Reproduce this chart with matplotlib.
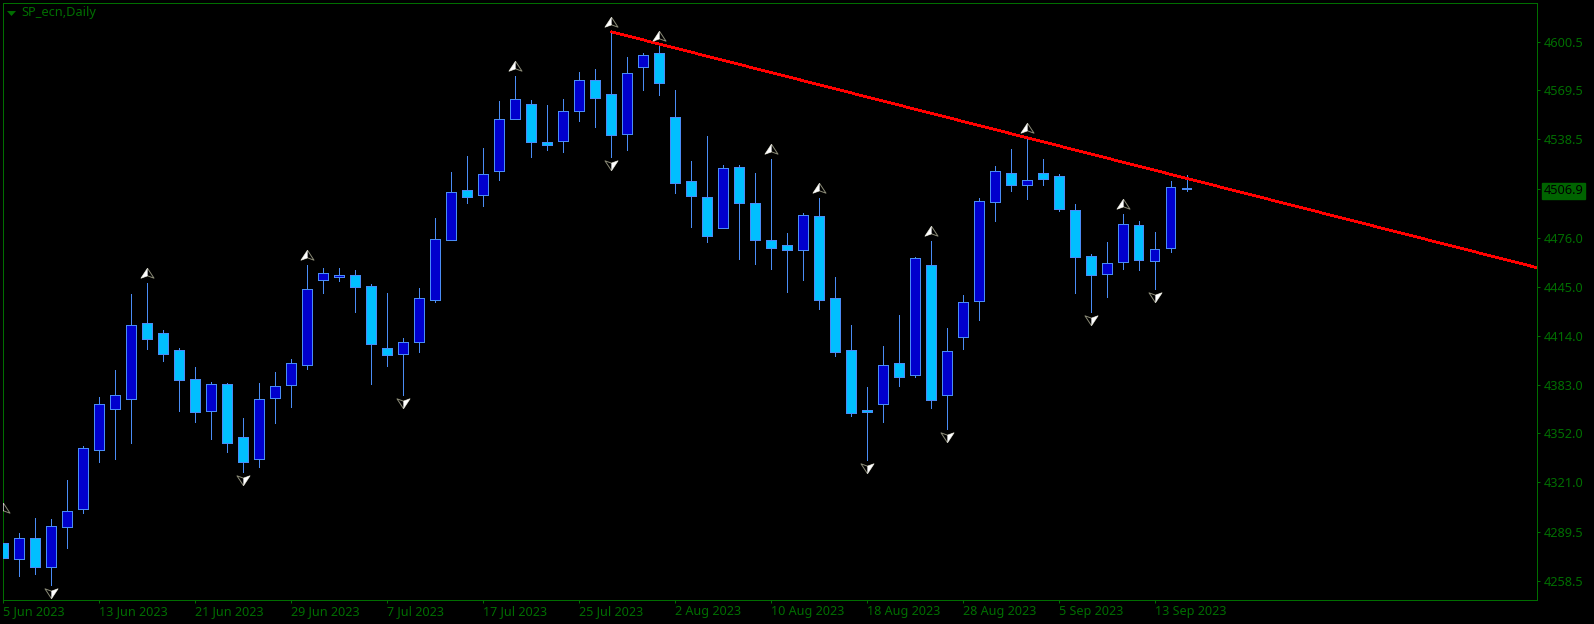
#!/usr/bin/env python3
# -*- coding: utf-8 -*-
import numpy as np
import matplotlib
matplotlib.use("Agg")
import matplotlib.pyplot as plt
from matplotlib.transforms import offset_copy

plt.rcParams["font.family"] = ["Noto Sans", "DejaVu Sans"]

#### DATA (bar number = position on the x axis)
bar_open = [4282.7, 4272.6, 4285.9, 4267.5, 4292.9, 4304.3, 4341.7, 4367.7, 4374.0, 4422.2,
            4415.9, 4405.1, 4386.7, 4366.2, 4383.5, 4349.9, 4336.0, 4374.4, 4382.7, 4395.3,
            4449.5, 4451.2, 4452.7, 4445.7, 4406.4, 4402.3, 4409.9, 4436.6, 4474.6, 4506.6,
            4503.2, 4518.4, 4551.4, 4561.1, 4537.0, 4537.4, 4556.4, 4576.4, 4567.5, 4541.9,
            4584.6, 4593.5, 4552.9, 4512.3, 4502.2, 4482.2, 4521.2, 4498.3, 4474.9, 4471.7,
            4468.3, 4490.1, 4438.1, 4405.1, 4367.2, 4370.6, 4396.9, 4389.0, 4459.0, 4376.3,
            4413.1, 4435.9, 4498.7, 4517.4, 4509.5, 4517.4, 4515.5, 4493.9, 4464.7, 4453.1,
            4460.7, 4484.4, 4461.3, 4469.5, 4507.9]
bar_high = [4298.6, 4288.6, 4298.6, 4297.9, 4322.2, 4344.0, 4375.3, 4392.0, 4440.2, 4447.2,
            4417.8, 4406.4, 4393.9, 4384.4, 4383.7, 4362.0, 4384.2, 4390.7, 4399.0, 4458.6,
            4456.7, 4456.7, 4455.4, 4446.5, 4440.8, 4412.7, 4444.0, 4488.4, 4517.6, 4527.7,
            4532.8, 4562.6, 4578.5, 4563.2, 4560.1, 4563.9, 4581.0, 4582.9, 4606.8, 4590.5,
            4593.5, 4597.5, 4569.6, 4524.5, 4540.4, 4522.0, 4522.0, 4516.9, 4525.8, 4478.9,
            4491.6, 4501.1, 4451.0, 4420.5, 4381.6, 4407.6, 4426.9, 4464.1, 4473.8, 4418.6,
            4440.0, 4501.1, 4521.8, 4532.2, 4539.6, 4525.8, 4516.3, 4497.3, 4465.6, 4473.2,
            4490.9, 4486.9, 4479.5, 4511.9, 4515.7]
bar_low = [4265.8, 4261.5, 4262.6, 4255.8, 4279.3, 4301.5, 4333.8, 4335.5, 4345.9, 4405.3,
           4397.7, 4366.0, 4359.0, 4348.2, 4340.0, 4327.3, 4330.6, 4358.4, 4369.1, 4393.2,
           4440.8, 4448.4, 4428.8, 4383.1, 4395.1, 4376.1, 4403.4, 4435.1, 4474.6, 4497.9,
           4496.2, 4512.5, 4551.4, 4527.3, 4531.5, 4530.3, 4549.9, 4546.1, 4527.3, 4531.5,
           4569.6, 4566.4, 4504.2, 4482.7, 4473.2, 4482.2, 4462.4, 4459.2, 4456.0, 4441.5,
           4449.1, 4430.7, 4400.9, 4363.0, 4334.9, 4359.2, 4382.0, 4387.7, 4367.9, 4354.7,
           4405.3, 4423.7, 4486.7, 4505.5, 4500.4, 4509.3, 4493.0, 4440.8, 4428.8, 4438.3,
           4456.0, 4455.4, 4443.4, 4466.8, 4505.5]
bar_close = [4273.2, 4285.9, 4267.5, 4293.5, 4302.8, 4343.0, 4370.9, 4376.6, 4421.0, 4411.8,
             4402.3, 4385.8, 4365.5, 4383.5, 4345.9, 4333.8, 4374.0, 4382.3, 4396.9, 4443.8,
             4453.9, 4452.7, 4444.8, 4408.7, 4401.7, 4410.2, 4438.1, 4475.5, 4505.3, 4501.9,
             4516.7, 4551.6, 4564.3, 4536.8, 4534.9, 4556.7, 4576.4, 4564.7, 4541.2, 4580.8,
             4592.2, 4574.2, 4510.8, 4502.5, 4477.2, 4520.5, 4498.1, 4474.6, 4469.5, 4468.3,
             4490.7, 4436.6, 4403.6, 4364.9, 4365.5, 4395.6, 4387.7, 4463.5, 4373.1, 4404.5,
             4435.6, 4499.6, 4518.6, 4509.5, 4512.9, 4513.1, 4494.3, 4463.8, 4452.4, 4460.0,
             4485.0, 4461.9, 4469.2, 4508.5, 4506.9]

fractal_up = [0, 9, 19, 32, 38, 41, 48, 51, 58, 64, 70]
fractal_down = [3, 15, 25, 38, 54, 59, 68, 72]

trend_bars = [38, 64]
trend_prices = [4606.8, 4539.6]

price_ticks = [4600.5, 4569.5, 4538.5, 4506.9, 4476.0, 4445.0, 4414.0, 4383.0, 4352.0, 4321.0, 4289.5, 4258.5]
price_labels = ["4600.5", "4569.5", "4538.5", "4506.9", "4476.0", "4445.0", "4414.0", "4383.0",
                "4352.0", "4321.0", "4289.5", "4258.5"]
date_ticks = [0, 6, 12, 18, 24, 30, 36, 42, 48, 54, 60, 66, 72]
date_labels = ["5 Jun 2023", "13 Jun 2023", "21 Jun 2023", "29 Jun 2023", "7 Jul 2023", "17 Jul 2023",
               "25 Jul 2023", "2 Aug 2023", "10 Aug 2023", "18 Aug 2023", "28 Aug 2023", "5 Sep 2023",
               "13 Sep 2023"]
last_price = 4506.9

#### STYLE
GREEN = "#006E00"
BOX_GREEN = "#006400"
BORDER = "#4A8CF5"
BULL = "#0000CD"
BEAR = "#00BFFF"
WIDTH, HEIGHT = 1594, 624
PX = 0.72  # one pixel in points at dpi 100

fig = plt.figure(figsize=(WIDTH / 100, HEIGHT / 100), dpi=100, facecolor="black")
ax = fig.add_axes([2.5 / WIDTH, 1 - 600 / HEIGHT, (1537 - 2.5) / WIDTH, 597.5 / HEIGHT], facecolor="black")

ax.set_xlim(-0.03, 95.9)
ax.set_ylim(4246.4, 4625.3)

X = np.arange(len(bar_open))
Open = np.array(bar_open)
Close = np.array(bar_close)
Up = Close >= Open

#### CANDLES
ax.vlines(X, bar_low, bar_high, color=BORDER, lw=PX, antialiased=False, zorder=2)
ax.bar(X, np.abs(Close - Open), bottom=np.minimum(Open, Close), width=0.6,
       color=[BULL if u else BEAR for u in Up], edgecolor=BORDER, linewidth=PX,
       antialiased=False, zorder=3)

#### TREND LINE, ray from the first anchor to the right border
slope = (trend_prices[1] - trend_prices[0]) / (trend_bars[1] - trend_bars[0])
x_end = ax.get_xlim()[1]
ax.plot([trend_bars[0], x_end], [trend_prices[0], trend_prices[0] + slope * (x_end - trend_bars[0])],
        color="#FF0000", lw=1.7 * PX, antialiased=False, solid_capstyle="butt", zorder=4)

#### FRACTAL ARROWS
wing_full = [(0, 1), (-1.25, -0.9), (0, -0.45), (1.25, -0.9), (0, 1)]
wing_half = [(0, 1), (-1.25, -0.9), (0, -0.45), (0, 1)]
wing_full_dn = [(-x, -y) for x, y in wing_full]
wing_half_dn = [(-x, -y) for x, y in wing_half]

up_trans = offset_copy(ax.transData, fig=fig, x=0, y=10 * PX, units="points")
dn_trans = offset_copy(ax.transData, fig=fig, x=0, y=-8 * PX, units="points")

y_up = [bar_high[i] for i in fractal_up]
y_dn = [bar_low[i] for i in fractal_down]
for xs, ys, tr, full, half in [(fractal_up, y_up, up_trans, wing_full, wing_half),
                               (fractal_down, y_dn, dn_trans, wing_full_dn, wing_half_dn)]:
    ax.plot(xs, ys, ls="none", marker=full, ms=13 * PX, mfc="black", mec="#8C8C78", mew=0.7,
            transform=tr, zorder=5)
    ax.plot(xs, ys, ls="none", marker=half, ms=13 * PX, mfc="white", mec="white", mew=0.2,
            transform=tr, zorder=6)

#### AXES
for s in ax.spines.values():
    s.set_color(GREEN)
    s.set_linewidth(PX)
    s.set_antialiased(False)

ax.yaxis.tick_right()
ax.set_yticks(price_ticks)
ax.set_yticklabels(price_labels)
ax.set_xticks(date_ticks)
ax.set_xticklabels(date_labels, ha="left")
ax.tick_params(axis="y", colors=GREEN, length=2.2, width=PX, pad=2.5, labelsize=9.2)
ax.tick_params(axis="x", colors=GREEN, length=2.2, width=PX, pad=1.2, labelsize=9.05)

for lab, p in zip(ax.get_yticklabels(), price_ticks):
    if p == last_price:
        lab.set_color("black")
        lab.set_bbox(dict(facecolor=BOX_GREEN, edgecolor=BOX_GREEN, pad=1.1))

#### HEADER
tri = [(-1, 0.55), (1, 0.55), (0, -0.55)]
ax.plot([10.5 / WIDTH], [1 - 12.5 / HEIGHT], marker=tri, ms=9 * PX, mfc=GREEN, mec=GREEN, mew=0,
        transform=fig.transFigure, clip_on=False)
fig.text(21.5 / WIDTH, 1 - 12.5 / HEIGHT, "SP_ecn,Daily", color=GREEN, fontsize=9.2, va="center", ha="left")

fig.savefig("out.png", dpi=100, facecolor="black")
